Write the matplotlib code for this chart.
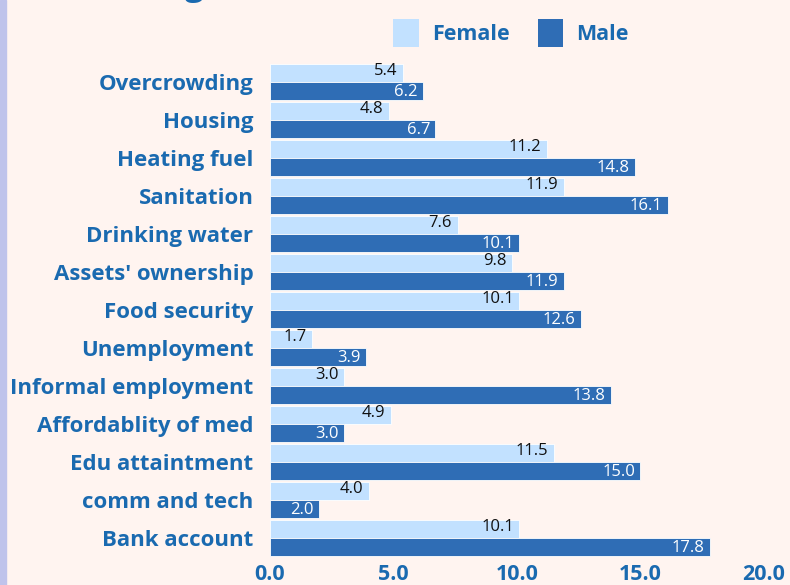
import matplotlib
matplotlib.use("Agg")
import matplotlib.pyplot as plt
from matplotlib.patches import Rectangle, Patch
import numpy as np

categories = ["Overcrowding", "Housing", "Heating fuel", "Sanitation",
              "Drinking water", "Assets' ownership", "Food security",
              "Unemployment", "Informal employment", "Affordablity of med",
              "Edu attaintment", "comm and tech", "Bank account"]
female = [5.4, 4.8, 11.2, 11.9, 7.6, 9.8, 10.1, 1.7, 3.0, 4.9, 11.5, 4.0, 10.1]
male = [6.2, 6.7, 14.8, 16.1, 10.1, 11.9, 12.6, 3.9, 13.8, 3.0, 15.0, 2.0, 17.8]
xticks = [0, 5, 10, 15, 20]

bg = "#FFF4F0"
blue_txt = "#1A6AB0"
c_female = "#C2E1FF"
c_male = "#2F6DB5"

fig = plt.figure(figsize=(7.9, 5.85), dpi=100, facecolor=bg)
fig.patches.append(Rectangle((0, 0), 6 / 790, 1, transform=fig.transFigure,
                             color="#BFC3EB", zorder=0))

W, H = 790, 585
ax = fig.add_axes([270 / W, 1 - 560 / H, 500 / W, 500 / H])
ax.set_facecolor(bg)

y = np.arange(len(categories))
off = 0.237
h = 0.45
ax.barh(y - off, female, height=h, color=c_female, edgecolor="white", linewidth=0.6)
ax.barh(y + off, male, height=h, color=c_male, edgecolor="white", linewidth=0.6)

for i in range(len(categories)):
    ax.text(female[i] - 0.22, y[i] - off - 0.05, f"{female[i]:.1f}", ha="right", va="center",
            fontsize=12, family="Open Sans", color="#111111")
    ax.text(male[i] - 0.22, y[i] + off + 0.03, f"{male[i]:.1f}", ha="right", va="center",
            fontsize=12, family="Open Sans", color="white")

ax.set_xlim(0, 20.25)
ax.set_ylim(12.58, -0.58)
ax.set_yticks(y)
ax.set_yticklabels(categories, fontsize=16, fontweight="bold", family="Open Sans",
                   color=blue_txt)
ax.set_xticks(xticks)
ax.set_xticklabels([f"{v:.1f}" for v in xticks], fontsize=15.5, fontweight="bold",
                   family="Open Sans", color=blue_txt)
ax.tick_params(axis="y", length=0, pad=12)
ax.tick_params(axis="x", length=0, pad=3)
for s in ax.spines.values():
    s.set_visible(False)

handles = [Patch(facecolor=c_female, label="Female"), Patch(facecolor=c_male, label="Male")]
leg = fig.legend(handles=handles, loc="center", bbox_to_anchor=(511 / W, 1 - 33 / H),
                 ncol=2, frameon=False, handlelength=1.2, handleheight=1.6,
                 columnspacing=1.3, handletextpad=0.6,
                 prop={"family": "Open Sans", "weight": "bold", "size": 15.5})
for t in leg.get_texts():
    t.set_color(blue_txt)

# title, mostly cut off at the top of the image
fig.text(185 / W, 1 + 5 / H, "gender (%)", ha="left", va="baseline", fontsize=24,
         fontweight="bold", family="Open Sans", color=blue_txt)

fig.savefig("out.png", dpi=100, facecolor=bg)
